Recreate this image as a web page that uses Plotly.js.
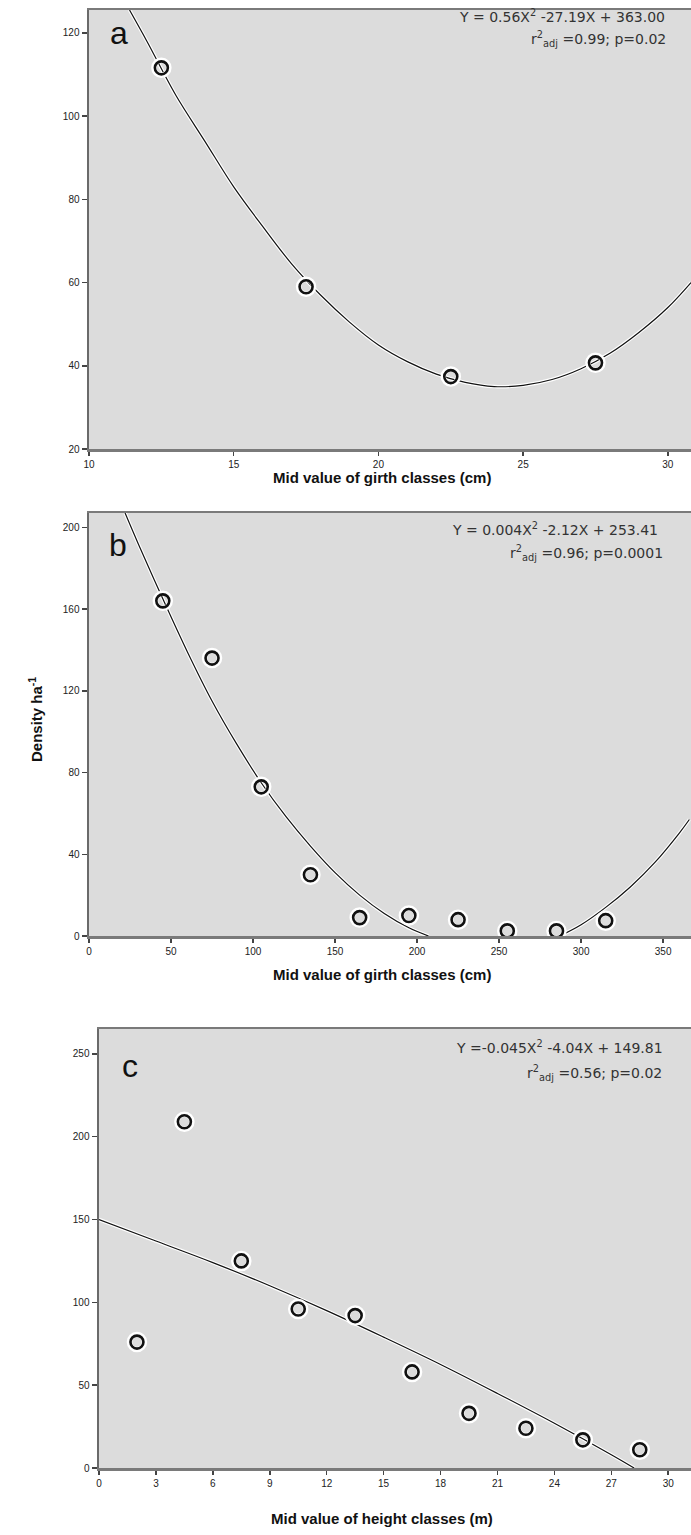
<!DOCTYPE html>
<html>
<head>
<meta charset="utf-8">
<script src="https://cdn.plot.ly/plotly-3.0.1.min.js"></script>
<style>html,body{margin:0;padding:0;background:#fff;}#chart{width:691px;height:1535px;}</style>
</head>
<body>
<div id="chart"></div>
<script>
// Panel a: girth classes (cm)
const aGirth = [12.5, 17.5, 22.5, 27.5];
const aDensity = [111.6, 59, 37.4, 40.7];
const aFitX = [11.4, 12, 13, 14, 15, 16, 17, 18, 19, 20, 21, 22, 23, 24, 25, 26, 27, 28, 29, 30, 30.8];
const aFitY = [125.5, 118, 105, 94, 83, 73.5, 64.5, 57, 50.5, 45, 41, 38, 36, 35, 35.3, 36.7, 39.3, 43, 48, 54, 60];
const aXTicks = [10, 15, 20, 25, 30];
const aYTicks = [20, 40, 60, 80, 100, 120];

// Panel b: girth classes (cm)
const bGirth = [45, 75, 105, 135, 165, 195, 225, 255, 285, 315];
const bDensity = [164, 136, 73, 30, 9, 10, 8, 2.5, 2.5, 7.5];
const bFitX = [22, 30, 45, 60, 75, 90, 105, 120, 135, 150, 165, 180, 195, 207, 247, 287, 300, 315, 330, 345, 360, 366];
const bFitY = [207, 192, 165, 139, 115, 94, 75, 58.5, 44, 31, 20, 11, 4, 0, null, 0, 5.5, 14, 24, 36, 50.5, 57];
const bXTicks = [0, 50, 100, 150, 200, 250, 300, 350];
const bYTicks = [0, 40, 80, 120, 160, 200];

// Panel c: height classes (m)
const cHeight = [2, 4.5, 7.5, 10.5, 13.5, 16.5, 19.5, 22.5, 25.5, 28.5];
const cDensity = [76, 209, 125, 96, 92, 58, 33, 24, 17, 11];
const cFitX = [0, 3, 6, 9, 12, 15, 18, 21, 24, 27, 28.2];
const cFitY = [150, 137, 124, 110, 95, 79, 62.5, 45, 27, 8, 0];
const cXTicks = [0, 3, 6, 9, 12, 15, 18, 21, 24, 27, 30];
const cYTicks = [0, 50, 100, 150, 200, 250];

const W = 691, H = 1535;
const px = v => v / W;
const py = v => 1 - v / H;

function fitTraces(x, y, xa, ya) {
  return [
    {x: x, y: y, xaxis: xa, yaxis: ya, type: 'scatter', mode: 'lines', connectgaps: false,
     line: {color: '#ffffff', width: 3.5, shape: 'spline'}, hoverinfo: 'skip', showlegend: false},
    {x: x, y: y, xaxis: xa, yaxis: ya, type: 'scatter', mode: 'lines', connectgaps: false,
     line: {color: '#111111', width: 1.2, shape: 'spline'}, showlegend: false}
  ];
}
function pointTraces(x, y, xa, ya) {
  return [
    {x: x, y: y, xaxis: xa, yaxis: ya, type: 'scatter', mode: 'markers', cliponaxis: false,
     marker: {symbol: 'circle-open', size: 15, color: '#ffffff', line: {color: '#ffffff', width: 5.5}}, hoverinfo: 'skip', showlegend: false},
    {x: x, y: y, xaxis: xa, yaxis: ya, type: 'scatter', mode: 'markers', cliponaxis: false,
     marker: {symbol: 'circle-open', size: 13, color: '#111111', line: {color: '#111111', width: 2.6}}, showlegend: false}
  ];
}

const data = [].concat(
  fitTraces(aFitX, aFitY, 'x', 'y'), pointTraces(aGirth, aDensity, 'x', 'y'),
  fitTraces(bFitX, bFitY, 'x2', 'y2'), pointTraces(bGirth, bDensity, 'x2', 'y2'),
  fitTraces(cFitX, cFitY, 'x3', 'y3'), pointTraces(cHeight, cDensity, 'x3', 'y3')
);

const tickFont = {family: 'Liberation Sans, Arial, sans-serif', size: 10, color: '#222222'};
function xAxis(domain, range, ticks, anchor) {
  return {domain: domain, range: range, anchor: anchor, tickmode: 'array', tickvals: ticks,
    ticktext: ticks.map(String), ticks: 'outside', ticklen: 4, tickwidth: 1.5, tickcolor: '#444',
    showline: true, linecolor: '#7a7a7a', linewidth: 2.5, mirror: true, showgrid: false, zeroline: false,
    tickfont: tickFont, fixedrange: true};
}
function yAxis(domain, range, ticks, anchor) {
  return {domain: domain, range: range, anchor: anchor, tickmode: 'array', tickvals: ticks,
    ticktext: ticks.map(String), ticks: 'outside', ticklen: 5, tickwidth: 1.5, tickcolor: '#444',
    showline: true, linecolor: '#6a6a6a', linewidth: 2.5, showgrid: false, zeroline: false,
    tickfont: tickFont, fixedrange: true};
}

const eqFont = {family: 'DejaVu Sans, sans-serif', size: 14, color: '#333333'};
const letterFont = {family: 'Liberation Sans, Arial, sans-serif', size: 32, color: '#111111'};
const titleFont = {family: 'Liberation Sans, Arial, sans-serif', size: 15, color: '#111111', weight: 'bold'};

function ann(text, x, y, font, xanchor, extra) {
  return Object.assign({text: text, xref: 'paper', yref: 'paper', x: px(x), y: py(y),
    xanchor: xanchor || 'center', yanchor: 'middle', showarrow: false, font: font}, extra || {});
}

const layout = {
  width: W, height: H,
  margin: {l: 0, r: 0, t: 0, b: 0},
  paper_bgcolor: '#ffffff',
  plot_bgcolor: '#dcdcdc',
  showlegend: false,
  xaxis: xAxis([px(89), 1], [10, 30.8], aXTicks, 'y'),
  yaxis: yAxis([py(449), py(10)], [20, 125.5], aYTicks, 'x'),
  xaxis2: xAxis([px(89), 1], [0, 367], bXTicks, 'y2'),
  yaxis2: yAxis([py(936), py(513)], [0, 207], bYTicks, 'x2'),
  xaxis3: xAxis([px(99), 1], [0, 31.2], cXTicks, 'y3'),
  yaxis3: yAxis([py(1468), py(1029)], [0, 265], cYTicks, 'x3'),
  annotations: [
    ann('a', 119, 33, letterFont),
    ann('Y = 0.56X<sup>2</sup> -27.19X + 363.00', 667, 16, eqFont, 'right'),
    ann('r<sup>2</sup><sub>adj</sub> =0.99; p=0.02', 668, 39, eqFont, 'right'),
    ann('<b>Mid value of girth classes (cm)</b>', 382, 477, titleFont),

    ann('b', 118, 545, letterFont),
    ann('Y = 0.004X<sup>2</sup> -2.12X + 253.41', 660, 529, eqFont, 'right'),
    ann('r<sup>2</sup><sub>adj</sub> =0.96; p=0.0001', 665, 553, eqFont, 'right'),
    ann('<b>Mid value of girth classes (cm)</b>', 382, 975, titleFont),
    ann('<b>Density ha<sup>-1</sup></b>', 35, 720, titleFont, 'center', {textangle: -90}),

    ann('c', 130, 1066, letterFont),
    ann('Y =-0.045X<sup>2</sup> -4.04X + 149.81', 665, 1047, eqFont, 'right'),
    ann('r<sup>2</sup><sub>adj</sub> =0.56; p=0.02', 664, 1073, eqFont, 'right'),
    ann('<b>Mid value of height classes (m)</b>', 382, 1518, titleFont)
  ]
};

Plotly.newPlot('chart', data, layout, {displayModeBar: false, staticPlot: true});
</script>
</body>
</html>
